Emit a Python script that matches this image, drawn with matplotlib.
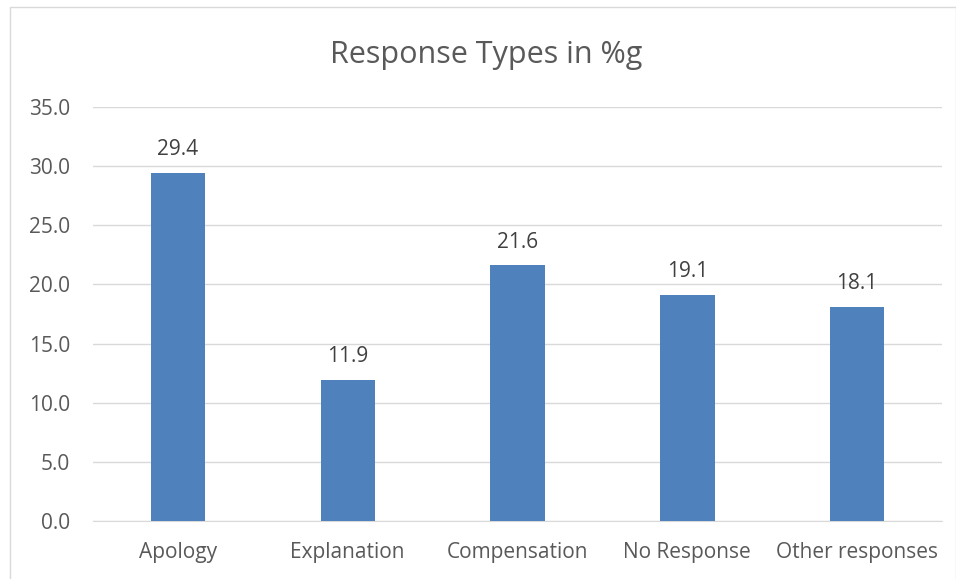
import numpy as np
import matplotlib
matplotlib.use('Agg')
import matplotlib.pyplot as plt
from matplotlib.patches import Rectangle

# data
categories = ['Apology', 'Explanation', 'Compensation', 'No Response', 'Other responses']
values = [29.4, 11.9, 21.6, 19.1, 18.1]
yticks = [0, 5, 10, 15, 20, 25, 30, 35]

plt.rcParams['font.family'] = ['Open Sans', 'DejaVu Sans']
text_col = '#595959'

fig = plt.figure(figsize=(9.56, 5.79), dpi=100)
ax = fig.add_axes([0.0973, 0.1002, 0.8881, 0.715])

x = np.arange(len(categories))
ax.bar(x, values, width=0.32, color='#4F81BD', zorder=3)
for xi, v in zip(x, values):
    ax.text(xi, v + 1.5, f'{v:.1f}', ha='center', va='baseline', fontsize=15, color='#404040')

ax.set_xlim(-0.5, len(categories) - 0.5)
ax.set_ylim(0, 35)
ax.set_yticks(yticks)
ax.set_yticklabels([f'{t:.1f}' for t in yticks])
ax.set_xticks(x)
ax.set_xticklabels(categories)
ax.tick_params(axis='both', length=0, labelsize=15, labelcolor=text_col)
ax.tick_params(axis='y', pad=16.5)
ax.tick_params(axis='x', pad=15)
ax.grid(axis='y', color='#d9d9d9', linewidth=1, zorder=0)
for s in ['top', 'right', 'left']:
    ax.spines[s].set_visible(False)
ax.spines['bottom'].set_color('#d9d9d9')

fig.text(0.509, 0.891, 'Response Types in %g', ha='center', va='baseline', fontsize=22, color=text_col)

# chart area border
fig.patches.append(Rectangle((0.0105, -0.01), 0.99, 0.998, transform=fig.transFigure,
                             fill=False, edgecolor='#d9d9d9', linewidth=1))

fig.savefig('out.png', dpi=100)
